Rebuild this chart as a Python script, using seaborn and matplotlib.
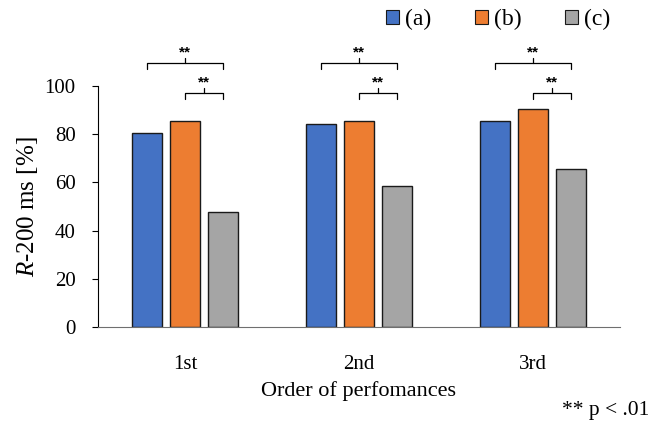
import matplotlib
matplotlib.use("Agg")
import matplotlib.pyplot as plt
import seaborn as sns
import pandas as pd
from matplotlib.patches import Patch

orders = ["1st", "2nd", "3rd"]
conditions = ["(a)", "(b)", "(c)"]
vals_a = [80.5, 84.2, 85.5]
vals_b = [85.5, 85.5, 90.4]
vals_c = [47.7, 58.5, 65.6]
colors = ["#4472C4", "#ED7D31", "#A5A5A5"]

rows = []
for cond, vals in zip(conditions, [vals_a, vals_b, vals_c]):
    for o, v in zip(orders, vals):
        rows.append({"order": o, "cond": cond, "value": v})
df = pd.DataFrame(rows)

sns.set_theme(style="white")
plt.rcParams['font.family'] = ['Liberation Serif', 'DejaVu Serif']
plt.rcParams['mathtext.fontset'] = 'custom'
plt.rcParams['mathtext.it'] = 'Liberation Serif:italic'
plt.rcParams['mathtext.rm'] = 'Liberation Serif'
plt.rcParams['text.color'] = 'black'
plt.rcParams['axes.labelcolor'] = 'black'
plt.rcParams['xtick.color'] = 'black'
plt.rcParams['ytick.color'] = 'black'

fig = plt.figure(figsize=(6.51, 4.25), dpi=100)
ax = fig.add_axes([0.1505, 0.2306, 0.8015, 0.567])

sns.barplot(data=df, x="order", y="value", hue="cond", order=orders,
            hue_order=conditions, palette=colors, saturation=1,
            width=0.654, gap=0.2,
            edgecolor="#1a1a1a", linewidth=1.0, ax=ax, legend=False)

ax.set_xlim(-0.5, 2.5)
ax.set_ylim(0, 100)
ax.set_yticks([0, 20, 40, 60, 80, 100])
ax.tick_params(axis='y', which='both', left=True, length=4, width=0.8,
               color='black', labelsize=15, pad=12)
ax.tick_params(axis='x', bottom=False, labelsize=15, pad=14)
for s in ["top", "right"]:
    ax.spines[s].set_visible(False)
ax.spines["left"].set_color("black")
ax.spines["left"].set_linewidth(0.8)
ax.spines["bottom"].set_color("#6f6f6f")
ax.spines["bottom"].set_linewidth(0.8)
ax.set_xlabel("Order of perfomances", fontsize=16, labelpad=5)
ax.set_ylabel("$R$-200 ms [%]", fontsize=18, labelpad=3)
ax.grid(False)

# significance brackets
off = 0.218
def bracket(x1, x2, y, h=2.4):
    xm = (x1 + x2) / 2
    ax.plot([x1, x1, x2, x2], [y - h, y, y, y - h], color="black", lw=0.9, clip_on=False)
    ax.plot([xm, xm], [y, y + 2.0], color="black", lw=0.9, clip_on=False)
    ax.text(xm, y + 4.3, "**", ha="center", va="center", fontsize=11,
            fontweight="bold", family=["Liberation Sans", "DejaVu Sans"], clip_on=False)

for i in range(3):
    bracket(i - off, i + off, 109.5)
    bracket(i, i + off, 97.0)

handles = [Patch(facecolor=c, edgecolor="#1a1a1a", linewidth=0.8) for c in colors]
fig.legend(handles, conditions, loc="center left", bbox_to_anchor=(0.593, 0.954),
           ncol=3, frameon=False, fontsize=17, handlelength=0.55, handleheight=0.55,
           handletextpad=0.25, columnspacing=1.85, borderpad=0, borderaxespad=0)

fig.text(0.998, 0.035, "** p < .01", ha="right", va="center", fontsize=15.5)

fig.savefig("out.png", dpi=100)
